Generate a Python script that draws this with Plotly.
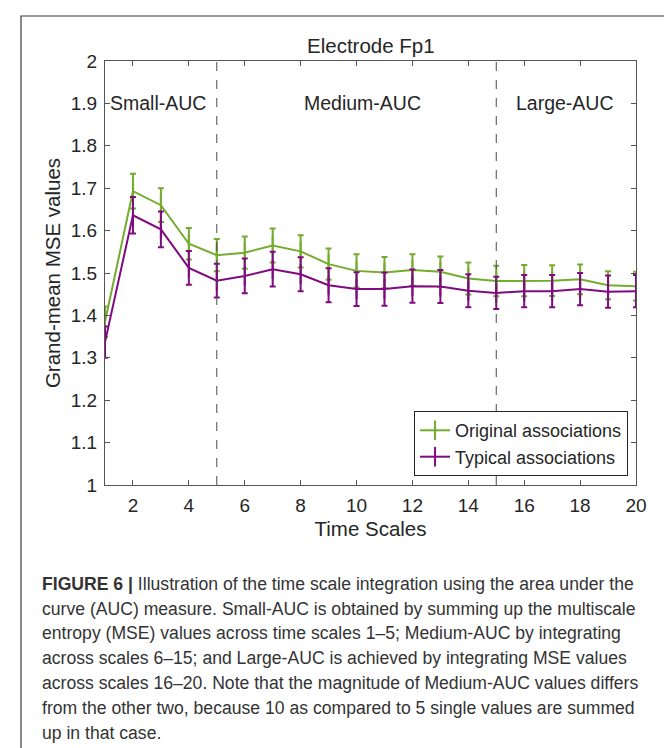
import plotly.graph_objects as go

scales = list(range(1, 21))
original_mean = [1.385, 1.693, 1.660, 1.569, 1.542, 1.548, 1.565, 1.551, 1.521, 1.505,
                 1.501, 1.507, 1.503, 1.487, 1.481, 1.482, 1.482, 1.485, 1.471, 1.469]
original_err = [0.036, 0.041, 0.040, 0.037, 0.038, 0.038, 0.040, 0.038, 0.037, 0.039,
                0.037, 0.037, 0.036, 0.038, 0.036, 0.037, 0.036, 0.035, 0.033, 0.034]
typical_mean = [1.337, 1.636, 1.603, 1.512, 1.482, 1.493, 1.509, 1.497, 1.471, 1.462,
                1.462, 1.469, 1.468, 1.458, 1.453, 1.457, 1.457, 1.462, 1.456, 1.457]
typical_err = [0.037, 0.043, 0.042, 0.040, 0.040, 0.041, 0.041, 0.040, 0.040, 0.040,
               0.039, 0.039, 0.039, 0.039, 0.038, 0.038, 0.038, 0.038, 0.038, 0.038]

x_ticks = [2, 4, 6, 8, 10, 12, 14, 16, 18, 20]
y_ticks = [1, 1.1, 1.2, 1.3, 1.4, 1.5, 1.6, 1.7, 1.8, 1.9, 2]
y_tick_labels = ["1", "1.1", "1.2", "1.3", "1.4", "1.5", "1.6", "1.7", "1.8", "1.9", "2"]
boundaries = [5, 15]
regions = [("Small-AUC", 2.9), ("Medium-AUC", 10.2), ("Large-AUC", 17.45)]
series_names = ["Original associations", "Typical associations"]
colors = ["#74ac2d", "#800a80"]

caption_lines = [
    "<b>FIGURE 6 |</b> Illustration of the time scale integration using the area under the",
    "curve (AUC) measure. Small-AUC is obtained by summing up the multiscale",
    "entropy (MSE) values across time scales 1–5; Medium-AUC by integrating",
    "across scales 6–15; and Large-AUC is achieved by integrating MSE values",
    "across scales 16–20. Note that the magnitude of Medium-AUC values differs",
    "from the other two, because 10 as compared to 5 single values are summed",
    "up in that case.",
]

W, H = 672, 748
L, R, T, B = 97, 628, 53, 477
pw, ph = R - L, B - T


def px(x):
    return (x - L) / pw


def py(y):
    return (B - y) / ph


fig = go.Figure()
for name, mean, err, col in [(series_names[0], original_mean, original_err, colors[0]),
                             (series_names[1], typical_mean, typical_err, colors[1])]:
    fig.add_trace(go.Scatter(
        x=scales, y=mean, name=name, mode="lines+markers",
        line=dict(color=col, width=2),
        marker=dict(symbol="line-ns", size=14, color=col, line=dict(color=col, width=2)),
        error_y=dict(type="data", array=err, visible=True, color=col, thickness=2, width=3),
    ))

shapes = []
for b in boundaries:
    shapes.append(dict(type="line", xref="x", yref="y", x0=b, x1=b, y0=1, y1=2,
                       line=dict(color="#4a4a4a", width=1, dash="dash")))
shapes.append(dict(type="rect", xref="paper", yref="paper",
                   x0=px(13), x1=px(669), y0=py(760), y1=py(8),
                   line=dict(color="#3a3a3a", width=1.2), fillcolor="rgba(0,0,0,0)"))

annotations = []
for label, xc in regions:
    annotations.append(dict(x=xc, y=1.9, xref="x", yref="y", text=label, showarrow=False,
                            font=dict(size=19.5, color="#262626"), xanchor="center", yanchor="middle"))
annotations.append(dict(x=0.5, y=py(38), xref="paper", yref="paper", text="Electrode Fp1",
                        showarrow=False, font=dict(size=20.5, color="#262626"),
                        xanchor="center", yanchor="middle"))
cap_y = [576, 601, 625, 650, 675, 700, 725]
for line, yy in zip(caption_lines, cap_y):
    annotations.append(dict(x=px(32), y=py(yy), xref="paper", yref="paper", text=line,
                            showarrow=False, font=dict(size=17.6, color="#333333"),
                            xanchor="left", yanchor="middle", align="left"))

fig.update_layout(
    width=W, height=H,
    margin=dict(l=L, r=W - R, t=T, b=H - B, pad=0),
    paper_bgcolor="white", plot_bgcolor="white",
    font=dict(family="Liberation Sans, Arial, sans-serif", color="#262626"),
    shapes=shapes, annotations=annotations,
    legend=dict(x=0.985, y=0.021, xanchor="right", yanchor="bottom",
                bgcolor="white", bordercolor="#262626", borderwidth=1,
                font=dict(size=18, color="#262626"), tracegroupgap=0,
                itemwidth=30),
    showlegend=True,
)
fig.update_xaxes(range=[1, 20], tickvals=x_ticks, ticks="inside", ticklen=5,
                 tickcolor="#555555", showline=True, linecolor="#555555", linewidth=1,
                 mirror="ticks", showgrid=False, zeroline=False, ticklabelstandoff=3,
                 tickfont=dict(size=19, color="#262626"),
                 title=dict(text="Time Scales", font=dict(size=20.5, color="#262626"), standoff=6))
fig.update_yaxes(range=[1, 2], tickvals=y_ticks, ticktext=y_tick_labels, ticks="inside",
                 ticklen=5, tickcolor="#555555", showline=True, linecolor="#555555",
                 linewidth=1, mirror="ticks", showgrid=False, zeroline=False,
                 ticklabelstandoff=3,
                 tickfont=dict(size=19, color="#262626"),
                 title=dict(text="Grand-mean MSE values", font=dict(size=20.5, color="#262626"),
                            standoff=4))

fig.write_html("out.html")
